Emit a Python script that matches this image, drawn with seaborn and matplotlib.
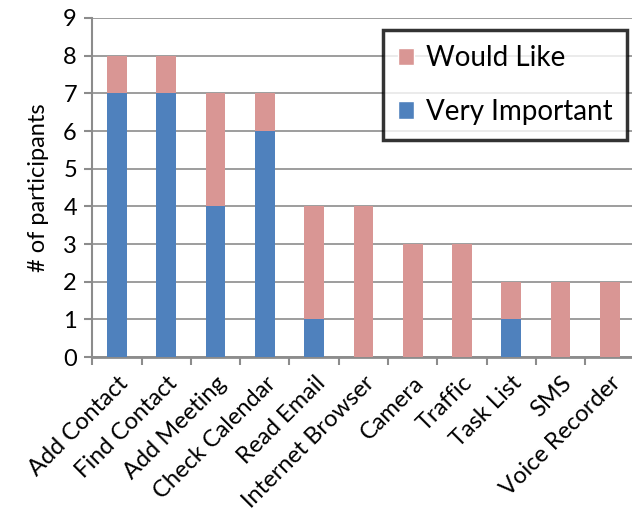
import matplotlib
matplotlib.use("Agg")
import matplotlib.pyplot as plt
from matplotlib.patches import Patch
import seaborn as sns
import pandas as pd

features = ["Add Contact", "Find Contact", "Add Meeting", "Check Calendar",
            "Read Email", "Internet Browser", "Camera", "Traffic",
            "Task List", "SMS", "Voice Recorder"]
very_important = [7, 7, 4, 6, 1, 0, 0, 0, 1, 0, 0]
would_like = [1, 1, 3, 1, 3, 4, 3, 3, 1, 2, 2]

BLUE = "#4F81BD"
PINK = "#D99694"
GRID = "#8C8C8C"

sns.set_theme(style="white", rc={"text.color": "black",
                                 "axes.labelcolor": "black",
                                 "xtick.color": "black",
                                 "ytick.color": "black"})
plt.rcParams["font.family"] = ["Lato", "DejaVu Sans"]

df = pd.DataFrame({
    "feature": features,
    "very_important": very_important,
    "would_like": would_like,
})
df["total"] = df["very_important"] + df["would_like"]

fig = plt.figure(figsize=(6.32, 5.29), dpi=100)
ax = fig.add_axes([0.146, 0.325, 0.858, 0.641])

# stacked bars: total height in pink, "very important" share drawn over it in blue
sns.barplot(data=df, x="feature", y="total", color=PINK, width=0.4,
            saturation=1, linewidth=0, ax=ax, zorder=3)
sns.barplot(data=df, x="feature", y="very_important", color=BLUE, width=0.4,
            saturation=1, linewidth=0, ax=ax, zorder=4)

ax.set_ylim(0, 9)
ax.set_xlim(-0.5, len(features) - 0.5)
ax.set_yticks(range(0, 10))
ax.yaxis.grid(True, color=GRID, linewidth=1.2, zorder=0)
ax.set_axisbelow(True)

for side in ["top", "right"]:
    ax.spines[side].set_visible(False)
ax.spines["left"].set_color(GRID)
ax.spines["left"].set_linewidth(1.5)
ax.spines["bottom"].set_color(GRID)
ax.spines["bottom"].set_linewidth(2)

# category-boundary tick marks on the x axis
ax.set_xticks([i - 0.5 for i in range(len(features))], minor=False)
ax.set_xticklabels([])
ax.set_xticks(range(len(features)), minor=True)
ax.set_xticklabels(features, minor=True, rotation=45, ha="right",
                   rotation_mode="anchor", fontsize=17)
ax.tick_params(axis="x", which="major", length=6, width=1.5, color=GRID,
               direction="out", bottom=True)
ax.tick_params(axis="x", which="minor", length=0, pad=11)
ax.tick_params(axis="y", length=6, width=1.5, color=GRID, direction="out",
               left=True, labelsize=17, pad=5)

ax.set_xlabel("")
ax.set_ylabel("# of participants", fontsize=17, labelpad=10)

handles = [Patch(facecolor=PINK, label="Would Like"),
           Patch(facecolor=BLUE, label="Very Important")]
leg = ax.legend(handles=handles, loc="upper right", bbox_to_anchor=(0.987, 0.965),
                fontsize=20, frameon=True, fancybox=False, handlelength=0.6,
                handleheight=0.6, handletextpad=0.4, borderpad=0.55,
                labelspacing=1.0, borderaxespad=0)
leg.get_frame().set_edgecolor("black")
leg.get_frame().set_linewidth(2.5)
leg.set_zorder(10)

fig.savefig("out.png", dpi=100)
